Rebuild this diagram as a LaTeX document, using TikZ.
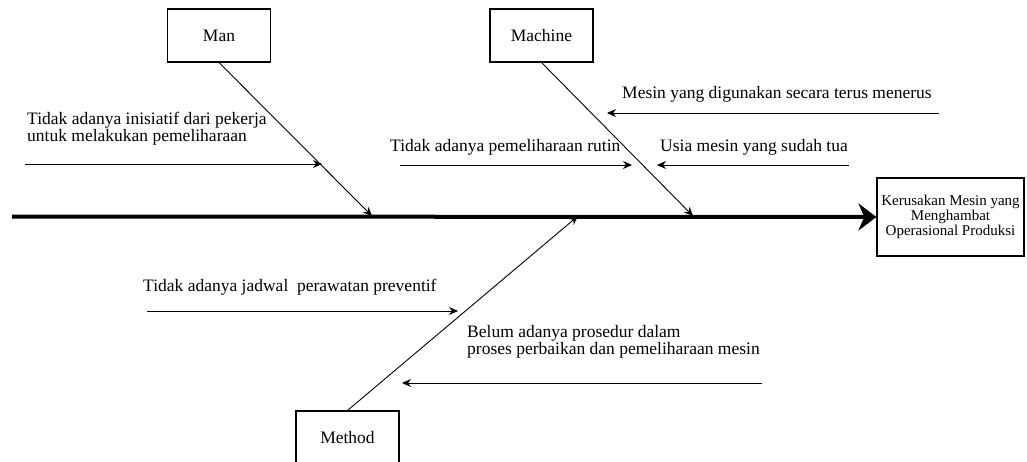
\documentclass[tikz,border=0pt]{standalone}
\usepackage{fontspec}
\setmainfont{Liberation Serif}
\usetikzlibrary{arrows.meta}
\begin{document}
\begin{tikzpicture}[x=1pt,y=-1pt,
  lbl/.style={font=\fontsize{17.5}{15.5}\selectfont, inner sep=0pt, anchor=base west, align=left},
  catbox/.style={draw, line width=1.1pt, minimum width=103pt, minimum height=53pt, font=\fontsize{17.5}{21}\selectfont, inner sep=0pt},
  effbox/.style={draw, line width=1.1pt, minimum width=147pt, minimum height=78pt, align=center, font=\fontsize{15}{14.7}\selectfont, inner sep=0pt},
  cause/.style={-{Stealth[length=9pt,width=8pt]}, line width=0.9pt},
  branch/.style={-{Stealth[length=9pt,width=8pt]}, line width=0.9pt},
  spine/.style={-{Stealth[length=18pt,width=27pt]}, line width=4pt}]
\useasboundingbox (0,0) rectangle (1027,461);
\clip (0,0) rectangle (1027,461);

% effect and spine
\node[effbox] (effect) at (950.5,217) {Kerusakan Mesin yang\\Menghambat\\Operasional Produksi};
\coordinate (tail) at (12,216.5);
\draw[spine] (tail) -- (effect.west);

% category boxes
\node[catbox] (man) at (219,35.5) {Man};
\node[catbox] (machine) at (541.5,35.5) {Machine};
\node[catbox] (method) at (347.5,437.5) {Method};

% branches
\coordinate (manend) at (372,216);
\coordinate (machend) at (693,216);
\coordinate (methend) at (578,216);
\draw[branch] (man.south) -- (manend);
\draw[branch] (machine.south) -- (machend);
\draw[branch] (method.north) -- (methend);

% Man cause
\node[lbl] (t1) at (27,141) {Tidak adanya inisiatif dari pekerja\\untuk melakukan pemeliharaan};
\coordinate (a1s) at (25,164);
\coordinate (a1e) at (322,164);
\draw[cause] (a1s) -- (a1e);

% Machine causes
\node[lbl] (t2) at (622,98) {Mesin yang digunakan secara terus menerus};
\coordinate (a2s) at (939,113);
\coordinate (a2e) at (607,113);
\draw[cause] (a2s) -- (a2e);

\node[lbl] (t3) at (660,151) {Usia mesin yang sudah tua};
\coordinate (a3s) at (849,165);
\coordinate (a3e) at (657,165);
\draw[cause] (a3s) -- (a3e);

\node[lbl] (t4) at (390,151) {Tidak adanya pemeliharaan rutin};
\coordinate (a4s) at (400,165);
\coordinate (a4e) at (632,165);
\draw[cause] (a4s) -- (a4e);

% Method causes
\node[lbl] (t5) at (143,291) {Tidak adanya jadwal\ \ perawatan preventif};
\coordinate (a5s) at (147,311);
\coordinate (a5e) at (458,311);
\draw[cause] (a5s) -- (a5e);

\node[lbl] (t6) at (467,354) {Belum adanya prosedur dalam\\proses perbaikan dan pemeliharaan mesin};
\coordinate (a6s) at (762,383);
\coordinate (a6e) at (402,383);
\draw[cause] (a6s) -- (a6e);
\end{tikzpicture}
\end{document}
